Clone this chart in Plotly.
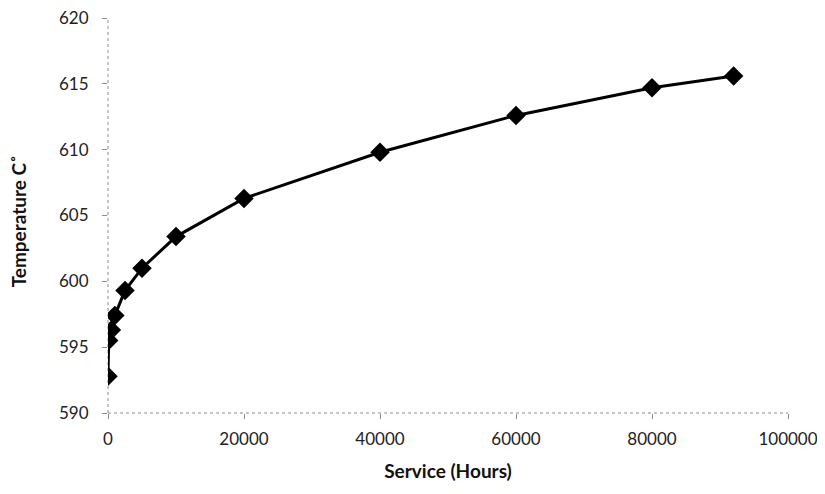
import plotly.graph_objects as go

service_hours = [0, 100, 500, 1000, 2500, 5000, 10000, 20000, 40000, 60000, 80000, 92000]
temperature_c = [592.8, 595.5, 596.3, 597.4, 599.3, 601.0, 603.4, 606.3, 609.8, 612.6, 614.7, 615.6]

x_ticks = [0, 20000, 40000, 60000, 80000, 100000]
y_ticks = [590, 595, 600, 605, 610, 615, 620]

FONT = "Lato"
AXIS_GREY = "#8c8c8c"

fig = go.Figure()
fig.add_trace(go.Scatter(
    x=service_hours, y=temperature_c,
    mode="lines+markers",
    line=dict(color="black", width=3),
    marker=dict(symbol="diamond", size=15, color="black"),
    showlegend=False,
))

axis_common = dict(
    showgrid=False, zeroline=False, showline=False, automargin=False,
    ticks="outside", ticklen=5, tickcolor=AXIS_GREY, tickwidth=1,
    ticklabeloverflow="allow",
)

fig.update_xaxes(
    range=[0, 100000], tickvals=x_ticks, ticktext=[str(v) for v in x_ticks],
    tickfont=dict(family=FONT, size=17, color="#222"),
    ticklabelstandoff=6,
    title=dict(text="<b>Service (Hours)</b>", font=dict(family=FONT, size=19, color="#111"), standoff=16),
    **axis_common,
)
fig.update_yaxes(
    range=[590, 620], tickvals=y_ticks, ticktext=[str(v) for v in y_ticks],
    tickfont=dict(family=FONT, size=17, color="#222"),
    ticklabelstandoff=10,
    **axis_common,
)

# dotted axis lines (Excel style)
fig.add_shape(type="line", xref="paper", yref="paper", x0=0, x1=1, y0=0, y1=0,
              line=dict(color=AXIS_GREY, width=1, dash="dot"), layer="below")
fig.add_shape(type="line", xref="paper", yref="paper", x0=0, x1=0, y0=0, y1=1,
              line=dict(color=AXIS_GREY, width=1, dash="dot"), layer="below")

fig.add_annotation(
    text="<b>Temperature C˚</b>", textangle=-90,
    xref="paper", yref="paper", x=-0.131, y=0.485,
    xanchor="center", yanchor="middle", showarrow=False,
    font=dict(family=FONT, size=19, color="#111"),
)

fig.update_layout(
    width=809, height=478,
    margin=dict(l=100, r=29, t=10, b=73),
    plot_bgcolor="white", paper_bgcolor="white",
)
fig.write_html("out.html")
